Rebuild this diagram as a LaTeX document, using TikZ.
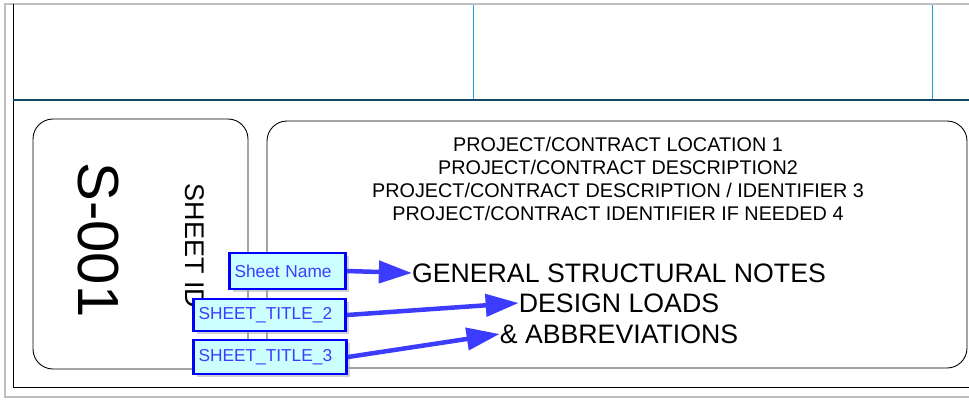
\documentclass[tikz,border=0pt]{standalone}
\usepackage{fontspec}
\setmainfont{Liberation Sans}
\usetikzlibrary{arrows.meta,positioning,shadows}
\definecolor{tagblue}{RGB}{0,0,255}
\definecolor{tagfill}{RGB}{204,255,255}
\definecolor{tagtext}{RGB}{60,60,255}
\definecolor{arrowblue}{RGB}{60,60,255}
\definecolor{gridblue}{RGB}{30,160,220}
\definecolor{bandline}{RGB}{20,70,100}
\tikzset{%
	panel/.style   = {draw, rounded corners=20pt, line width=0.9pt},
	tag/.style     = {draw=tagblue, fill=tagfill, line width=2.8pt, text=tagtext, inner xsep=5pt, inner ysep=0pt, align=left, font=\fontsize{17.3}{19}\selectfont, drop shadow={shadow xshift=3pt, shadow yshift=-3pt, fill=black!35}},
	pointer/.style = {draw=arrowblue, line width=4.5pt, -{Triangle[length=33pt,width=22pt]}},
	title/.style   = {inner sep=0pt, font=\fontsize{26.7}{30}\selectfont},
	info/.style    = {inner sep=0pt, font=\fontsize{19.8}{22}\selectfont},
}
\begin{document}
\begin{tikzpicture}[x=1pt, y=-1pt, node distance=23pt]
		\useasboundingbox (0,0) rectangle (969,400);
		% window edge and sheet frame
		\draw[black!25, line width=1.5pt] (969,4) -- (5,4) -- (5,397) -- (969,397);
		\draw[line width=1pt] (13,4) -- (13,387) -- (969,387);
		\draw[gridblue, line width=0.8pt] (473,5) -- (473,100);
		\draw[gridblue, line width=0.8pt] (932,5) -- (932,100);
		\draw[bandline, line width=2.8pt] (13,100) -- (969,100);
		
		% title block panels
		\draw[panel] (33,119) rectangle (248,369);
		\draw[panel] (267,121) rectangle (967,368);
		
		\node[rotate=-90, font=\fontsize{58}{60}\selectfont] (sheetnum) at (98,240) {S-001};
		\node[rotate=-90, font=\fontsize{27}{30}\selectfont] (sheetid) at (195,246) {SHEET ID};
		
		\node[info] (loc) at (618,144) {PROJECT/CONTRACT LOCATION 1};
		\node[info, below of=loc] (desc) {PROJECT/CONTRACT DESCRIPTION2};
		\node[info, below of=desc] (ident) {PROJECT/CONTRACT DESCRIPTION / IDENTIFIER 3};
		\node[info, below of=ident] (needed) {PROJECT/CONTRACT IDENTIFIER IF NEEDED 4};
		
		\node[title] (general) at (619,273) {GENERAL STRUCTURAL NOTES};
		\node[title, below of=general, node distance=30pt] (design) {DESIGN LOADS};
		\node[title, below of=design, node distance=31pt] (abbrev) {\& ABBREVIATIONS};
		
		% callouts
		\node[tag, text width=106pt, minimum height=36pt] (name) at (287.5,271) {Sheet Name};
		\node[tag, text width=142pt, minimum height=32pt] (title2) at (269.5,315) {SHEET\_TITLE\_2};
		\node[tag, text width=143pt, minimum height=34pt] (title3) at (270,357) {SHEET\_TITLE\_3};
		
		\draw[pointer] (name.east) -- (general.west);
		\draw[pointer] (title2.east) -- (design.west);
		\draw[pointer] (title3.east) -- (abbrev.west);
		\end{tikzpicture}
\end{document}
